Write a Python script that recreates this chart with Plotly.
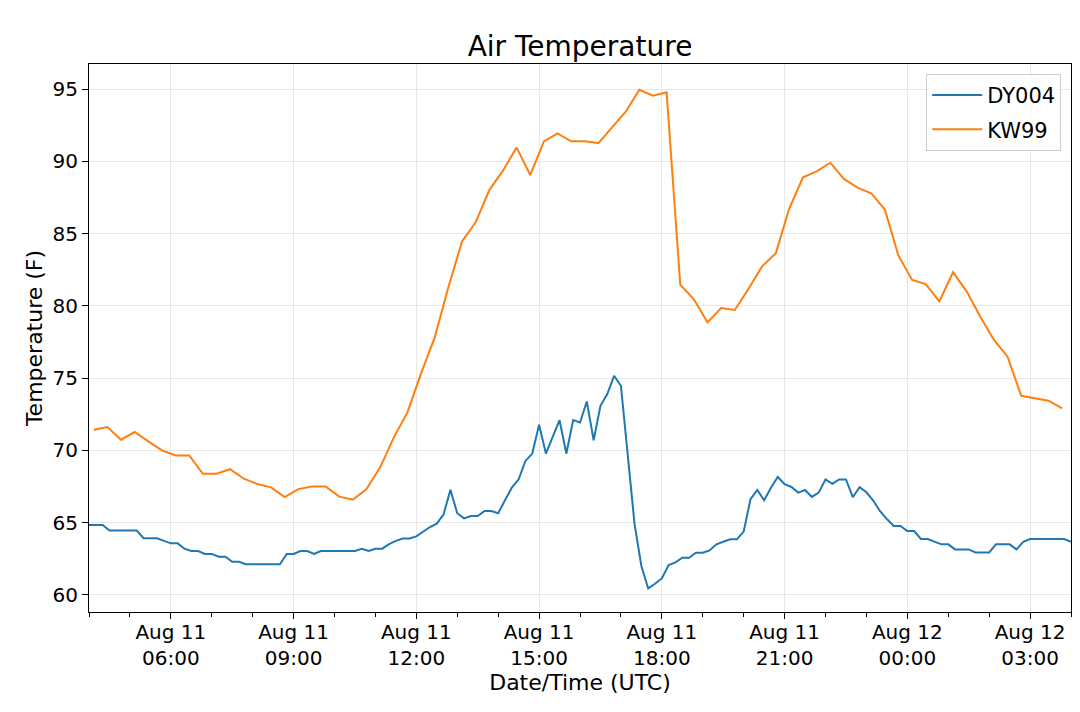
import pandas as pd
import plotly.graph_objects as go

# DY004 - 10 minute readings from Aug 11 04:00 to Aug 12 04:00 (UTC)
dy004_start = "2019-08-11 04:00"
dy004_temp = [
    64.84, 64.84, 64.84, 64.45, 64.45, 64.45,   # 04h
    64.45, 64.45, 63.92, 63.92, 63.92, 63.74,   # 05h
    63.57, 63.57, 63.20, 63.04, 63.04, 62.84,   # 06h
    62.84, 62.65, 62.65, 62.30, 62.30, 62.12,   # 07h
    62.12, 62.12, 62.12, 62.12, 62.12, 62.84,   # 08h
    62.84, 63.04, 63.04, 62.84, 63.04, 63.04,   # 09h
    63.04, 63.04, 63.04, 63.04, 63.20, 63.04,   # 10h
    63.20, 63.20, 63.52, 63.74, 63.90, 63.90,   # 11h
    64.05, 64.40, 64.70, 64.93, 65.58, 67.27,   # 12h
    65.65, 65.30, 65.46, 65.46, 65.81, 65.81,   # 13h
    65.65, 66.55, 67.42, 68.00, 69.27, 69.78,   # 14h
    71.77, 69.78, 70.90, 72.09, 69.78, 72.10,   # 15h
    71.93, 73.38, 70.70, 73.08, 73.90, 75.16,   # 16h
    74.47, 69.70, 64.90, 62.00, 60.45, 60.77,   # 17h
    61.14, 62.06, 62.25, 62.57, 62.57, 62.92,   # 18h
    62.92, 63.08, 63.50, 63.68, 63.85, 63.85,   # 19h
    64.38, 66.62, 67.26, 66.55, 67.42, 68.16,   # 20h
    67.66, 67.47, 67.08, 67.26, 66.78, 67.08,   # 21h
    67.99, 67.69, 67.99, 67.99, 66.76, 67.45,   # 22h
    67.10, 66.53, 65.79, 65.25, 64.77, 64.77,   # 23h
    64.42, 64.42, 63.87, 63.87, 63.68, 63.50,   # 00h
    63.50, 63.15, 63.15, 63.15, 62.94, 62.94,   # 01h
    62.94, 63.50, 63.50, 63.50, 63.15, 63.68,   # 02h
    63.87, 63.87, 63.87, 63.87, 63.87, 63.87,   # 03h
    63.68,
]

# KW99 - 20 minute readings from Aug 11 04:07
kw99_start = "2019-08-11 04:07"
kw99_temp = [
    71.43, 71.62, 70.74, 71.27, 70.62, 70.00, 69.65, 69.65, 68.38,
    68.38, 68.70, 68.04, 67.67, 67.44, 66.77, 67.32, 67.50, 67.50,
    66.80, 66.59, 67.33, 68.83, 70.90, 72.63, 75.35, 77.82, 81.28,
    84.46, 85.78, 88.01, 89.35, 90.96, 89.05, 91.38, 91.93, 91.38,
    91.38, 91.26, 92.35, 93.43, 94.95, 94.54, 94.77, 81.47, 80.45,
    78.86, 79.85, 79.71, 81.17, 82.73, 83.63, 86.75, 88.89, 89.30,
    89.90, 88.78, 88.18, 87.79, 86.66, 83.47, 81.79, 81.51, 80.31,
    82.32, 81.00, 79.25, 77.64, 76.48, 73.78, 73.62, 73.44, 72.91,
]

tick_times = ["2019-08-11 06:00", "2019-08-11 09:00", "2019-08-11 12:00",
              "2019-08-11 15:00", "2019-08-11 18:00", "2019-08-11 21:00",
              "2019-08-12 00:00", "2019-08-12 03:00"]
tick_text = ["Aug 11<br>06:00", "Aug 11<br>09:00", "Aug 11<br>12:00",
             "Aug 11<br>15:00", "Aug 11<br>18:00", "Aug 11<br>21:00",
             "Aug 12<br>00:00", "Aug 12<br>03:00"]

dy004_time = pd.date_range(dy004_start, periods=len(dy004_temp), freq="10min")
kw99_time = pd.date_range(kw99_start, periods=len(kw99_temp), freq="20min")

fig = go.Figure()
fig.add_trace(go.Scatter(x=dy004_time, y=dy004_temp, mode="lines", name="DY004",
                         legendgroup="a", line=dict(color="#1f77b4", width=2)))
fig.add_trace(go.Scatter(x=kw99_time, y=kw99_temp, mode="lines", name="KW99",
                         legendgroup="b", line=dict(color="#ff7f0e", width=2)))

# page body has an 8px margin, so the figure is a bit smaller than the window
fig.update_layout(
    width=1064, height=696,
    margin=dict(l=81, r=1, t=56, b=92),
    plot_bgcolor="white", paper_bgcolor="white",
    font=dict(family="DejaVu Sans", color="black", size=20),
    title=dict(text="Air Temperature", x=0.5, xref="paper", xanchor="center",
               y=1 - 38 / 696, yref="container", yanchor="middle",
               font=dict(size=28)),
    legend=dict(x=0.99, y=0.982, xanchor="right", yanchor="top",
                bordercolor="#cccccc", borderwidth=1, bgcolor="rgba(255,255,255,0.8)",
                font=dict(size=21), tracegroupgap=4, itemwidth=50),
    showlegend=True,
)

fig.update_xaxes(
    range=["2019-08-11 04:00", "2019-08-12 04:00"],
    tickmode="array", tickvals=tick_times, ticktext=tick_text,
    ticks="outside", ticklen=6, tickcolor="black", ticklabelstandoff=-4,
    showline=True, linecolor="black", linewidth=1, mirror=True,
    showgrid=True, gridcolor="#e6e6e6", gridwidth=1, zeroline=False,
    minor=dict(dtick=3600000, ticks="outside", ticklen=4, tickcolor="black", showgrid=False),
    title=dict(text="Date/Time (UTC)", font=dict(size=22), standoff=0),
    automargin=False,
)
fig.update_yaxes(
    range=[58.82, 96.73],
    tickmode="linear", tick0=60, dtick=5,
    ticks="outside", ticklen=6, tickcolor="black",
    showline=True, linecolor="black", linewidth=1, mirror=True,
    showgrid=True, gridcolor="#e6e6e6", gridwidth=1, zeroline=False,
    title=dict(text="Temperature (F)", font=dict(size=22), standoff=3),
    automargin=False,
)

fig.write_html("out.html")
